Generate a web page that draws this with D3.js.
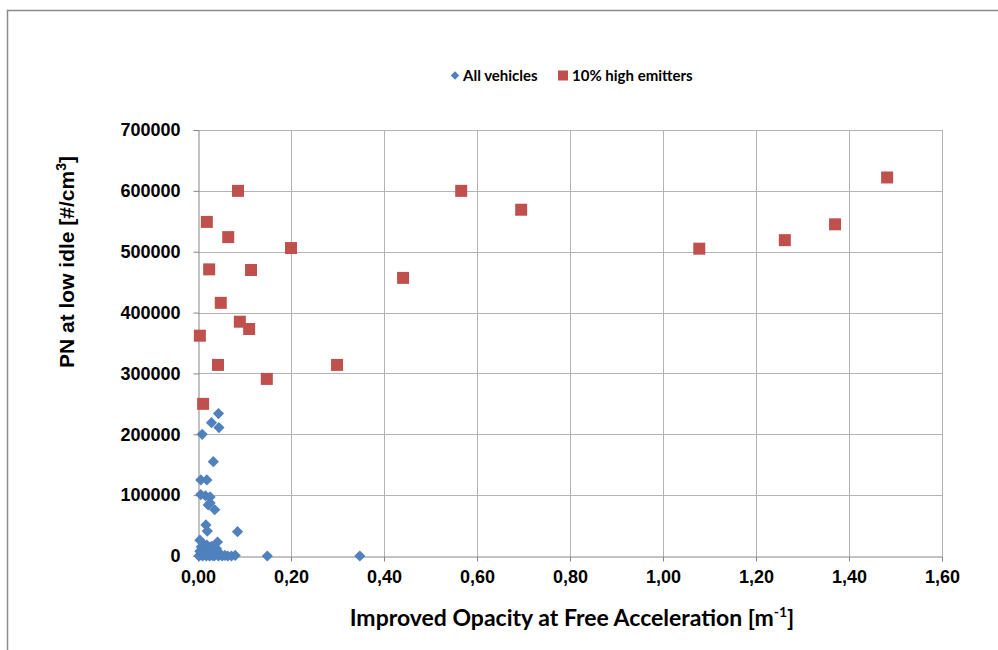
<!DOCTYPE html>
<html>
<head>
<meta charset="utf-8">
<script src="https://cdn.jsdelivr.net/npm/d3@7"></script>
<style>
  body { margin: 0; background: #fff; }
  svg { display: block; }
</style>
</head>
<body>
<div id="chart"></div>
<script>
// All vehicles (opacity [m-1], PN [#/cm3])
const allVehiclesOpacity = [0.044, 0.029, 0.045, 0.009, 0.033, 0.006, 0.019, 0.006, 0.016, 0.026,
  0.022, 0.026, 0.036, 0.017, 0.020, 0.085, 0.149, 0.348,
  0.002, 0.004, 0.005, 0.007, 0.008, 0.010, 0.011, 0.012, 0.014, 0.015, 0.017, 0.018, 0.019,
  0.021, 0.022, 0.024, 0.025, 0.027, 0.029, 0.031, 0.032, 0.033, 0.035, 0.038, 0.040, 0.042,
  0.044, 0.047, 0.052, 0.058, 0.064, 0.072, 0.080, 0.004];
const allVehiclesPN = [234000, 219000, 211000, 200000, 155000, 125000, 125000, 101000, 99000, 97000,
  84000, 87000, 76000, 51000, 41000, 40000, 0, 0,
  0, 8000, 2000, 15000, 4000, 0, 20000, 10000, 3000, 14000, 6000, 0, 18000,
  9000, 2000, 12000, 0, 5000, 16000, 1000, 13000, 8000, 0, 3000, 12000, 23000,
  0, 4000, 0, 1000, 0, 0, 1000, 26000];

// 10% high emitters
const highOpacity = [0.004, 0.011, 0.019, 0.024, 0.043, 0.049, 0.065, 0.086, 0.090, 0.110, 0.114,
  0.148, 0.200, 0.299, 0.441, 0.566, 0.695, 1.078, 1.262, 1.370, 1.482];
const highPN = [362000, 250000, 549000, 471000, 314000, 416000, 524000, 600000, 385000, 373000, 470000,
  291000, 506000, 314000, 457000, 600000, 569000, 505000, 519000, 545000, 622000];

const xTicks = [0, 0.2, 0.4, 0.6, 0.8, 1.0, 1.2, 1.4, 1.6];
const yTicks = [0, 100000, 200000, 300000, 400000, 500000, 600000, 700000];

const seriesNames = ['All vehicles', '10% high emitters'];
const seriesColors = ['#4F81BD', '#C0504D'];

const W = 998, H = 650;
const plot = { left: 198, right: 942, top: 130, bottom: 556 };

const svg = d3.select('#chart').append('svg')
  .attr('width', W)
  .attr('height', H);

// outer frame (only top and left visible)
svg.append('path')
  .attr('d', `M7.5,${H} V10.5 H${W}`)
  .attr('fill', 'none')
  .attr('stroke', '#8a8a8a')
  .attr('stroke-width', 1.5);

const x = d3.scaleLinear().domain([0, 1.6]).range([plot.left, plot.right]);
const y = d3.scaleLinear().domain([0, 700000]).range([plot.bottom, plot.top]);

// gridlines
svg.append('g')
  .selectAll('line')
  .data(yTicks.slice(1))
  .join('line')
  .attr('x1', plot.left).attr('x2', plot.right)
  .attr('y1', d => Math.round(y(d)) + 0.5).attr('y2', d => Math.round(y(d)) + 0.5)
  .attr('stroke', '#b3b3b3');

svg.append('g')
  .selectAll('line')
  .data(xTicks.slice(1))
  .join('line')
  .attr('x1', d => Math.round(x(d)) + 0.5).attr('x2', d => Math.round(x(d)) + 0.5)
  .attr('y1', plot.top).attr('y2', plot.bottom)
  .attr('stroke', '#b3b3b3');

// axes
const fmtX = d => d3.format('.2f')(d).replace('.', ',');

const xAxis = svg.append('g')
  .attr('transform', `translate(0, ${Math.round(y(0)) + 0.5})`)
  .call(d3.axisBottom(x).tickValues(xTicks).tickFormat(fmtX).tickSize(5).tickPadding(9));

const yAxis = svg.append('g')
  .attr('transform', `translate(${Math.round(x(0)) + 0.5}, 0)`)
  .call(d3.axisLeft(y).tickValues(yTicks).tickFormat(d3.format('d')).tickSize(5).tickPadding(13));

[xAxis, yAxis].forEach(ax => {
  ax.select('.domain').attr('stroke', '#868686');
  ax.selectAll('.tick line').attr('stroke', '#868686');
  ax.selectAll('text')
    .attr('fill', '#000')
    .style('font-family', '"Liberation Sans", Arial, sans-serif')
    .style('font-weight', 'bold')
    .style('font-size', '18px');
});

// markers
const diamond = d3.symbol().type(d3.symbolDiamond2).size(80);

svg.append('g')
  .selectAll('path')
  .data(d3.range(allVehiclesOpacity.length))
  .join('path')
  .attr('transform', i => `translate(${x(allVehiclesOpacity[i])}, ${y(allVehiclesPN[i])})`)
  .attr('d', diamond)
  .attr('fill', seriesColors[0]);

svg.append('g')
  .selectAll('rect')
  .data(d3.range(highOpacity.length))
  .join('rect')
  .attr('x', i => x(highOpacity[i]) - 6)
  .attr('y', i => y(highPN[i]) - 6)
  .attr('width', 12)
  .attr('height', 12)
  .attr('fill', seriesColors[1]);

// legend
const legendFont = 'Lato, "Open Sans", sans-serif';
const lg = svg.append('g');
lg.append('path')
  .attr('transform', 'translate(455, 75.5)')
  .attr('d', d3.symbol().type(d3.symbolDiamond2).size(46))
  .attr('fill', seriesColors[0]);
lg.append('text')
  .attr('x', 463).attr('y', 81)
  .style('font-family', legendFont).style('font-weight', 'bold').style('font-size', '15px')
  .text(seriesNames[0]);
lg.append('rect')
  .attr('x', 558).attr('y', 70.5).attr('width', 10).attr('height', 10)
  .attr('fill', seriesColors[1]);
lg.append('text')
  .attr('x', 572).attr('y', 81)
  .style('font-family', legendFont).style('font-weight', 'bold').style('font-size', '15px')
  .text(seriesNames[1]);

// axis titles
const xt = svg.append('text')
  .attr('x', 572).attr('y', 626)
  .attr('text-anchor', 'middle')
  .style('font-family', legendFont).style('font-weight', 'bold').style('font-size', '23px');
xt.append('tspan').text('Improved Opacity at Free Acceleration [m');
xt.append('tspan').attr('dy', -9).style('font-size', '14px').text('-1');
xt.append('tspan').attr('dy', 9).text(']');

const yt = svg.append('text')
  .attr('transform', 'translate(74, 262) rotate(-90)')
  .attr('text-anchor', 'middle')
  .style('font-family', '"Liberation Sans", Arial, sans-serif').style('font-weight', 'bold').style('font-size', '21px');
yt.append('tspan').text('PN at low idle [#/cm');
yt.append('tspan').attr('dy', -8).style('font-size', '14px').text('3');
yt.append('tspan').attr('dy', 8).text(']');
</script>
</body>
</html>
